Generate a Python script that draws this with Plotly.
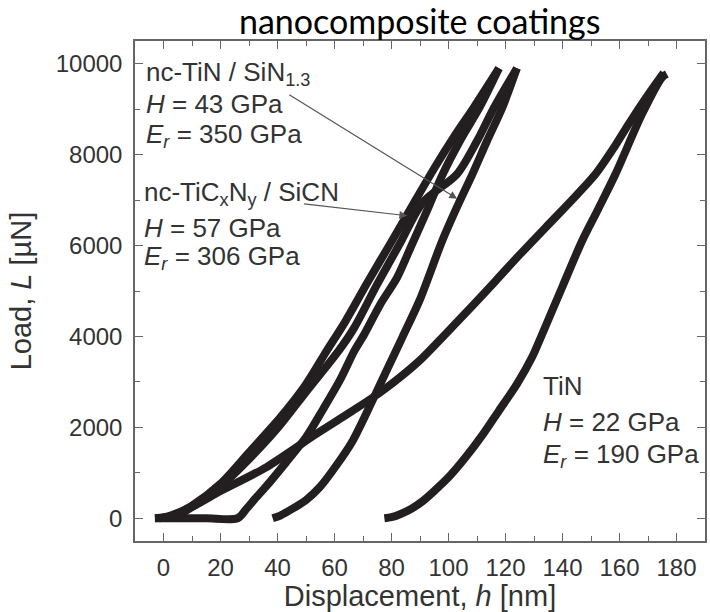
import plotly.graph_objects as go

# ---- data (displacement h [nm], load L [uN]) ----
# hard coating 1 (peak ~117.7 nm)
c1_load_h = [-3, 3, 10, 20, 30, 41, 50, 57.3, 63.5, 71.3, 80.6, 88, 95, 102, 109, 117.7]
c1_load_L = [0, 60, 280, 760, 1450, 2221, 2950, 3688, 4300, 5160, 6150, 6950, 7700, 8400, 9050, 9900]
c1_unload_h = [117.7, 111, 104, 98, 92, 87, 82, 76, 70.5, 67, 62, 56, 50, 43, 36, 32, 29, 26, 15, 5, -3]
c1_unload_L = [9900, 9050, 8300, 7573, 6700, 6000, 5300, 4700, 4055, 3688, 3050, 2400, 1781, 1230, 700, 420, 200, 0, 0, 0, 0]

# hard coating 2 (peak ~124 nm)
c2_load_h = [-1.5, 5, 12, 20, 30, 40, 50, 61.5, 67, 75, 83, 91, 103, 110, 116, 124]
c2_load_L = [0, 70, 330, 700, 1300, 1980, 2780, 3688, 4200, 5150, 6050, 6950, 7573, 8300, 9037, 9900]
c2_unload_h = [124, 118.9, 113.5, 108.4, 103, 97.8, 89.8, 83.8, 78.5, 73.3, 66.4, 60.5, 54.8, 50, 45, 41, 38.3]
c2_unload_L = [9900, 9037, 8300, 7573, 6850, 6106, 4787, 3980, 3280, 2588, 1708, 1150, 682, 400, 200, 60, 0]

# TiN
tin_load_h = [0, 10, 20, 36, 53.6, 66, 76.9, 89.8, 99, 108, 116.6, 125, 134.1, 143, 151.6, 158, 163.2, 170.2, 175.5]
tin_load_L = [0, 250, 600, 1121, 1856, 2350, 2808, 3464, 4055, 4650, 5227, 5800, 6399, 6980, 7573, 8150, 8672, 9332, 9800]
tin_unload_h = [176.6, 174.9, 167.9, 158.6, 152.5, 146.9, 140, 132.9, 129.3, 124, 117.7, 112, 106, 100, 95, 91, 87, 83, 80, 77.5]
tin_unload_L = [9773, 9697, 8893, 7573, 6800, 6106, 5100, 4055, 3541, 2950, 2368, 1840, 1341, 900, 600, 380, 210, 90, 25, 0]

x_ticks = [0, 20, 40, 60, 80, 100, 120, 140, 160, 180]
y_ticks = [0, 2000, 4000, 6000, 8000, 10000]
y_tick_labels = ["0", "2000", "4000", "6000", "8000", "10000"]

LINE = "#231f20"
TXT = "#333333"
AX = "#666666"

fig = go.Figure()
for hx, ly in [(c1_load_h, c1_load_L), (c1_unload_h, c1_unload_L),
               (c2_load_h, c2_load_L), (c2_unload_h, c2_unload_L),
               (tin_load_h, tin_load_L), (tin_unload_h, tin_unload_L)]:
    fig.add_trace(go.Scatter(x=hx, y=ly, mode="lines",
                             line=dict(color=LINE, width=8, shape="spline", smoothing=0.8),
                             showlegend=False, hoverinfo="skip"))

FONT = "Liberation Sans"
fs = 26
anns = []
def txt(x, y, s):
    anns.append(dict(x=x, y=y, xref="x", yref="y", text=s, showarrow=False,
                     xanchor="left", yanchor="middle",
                     font=dict(family=FONT, size=fs, color=TXT)))

txt(-6.8, 9780, "nc-TiN / SiN<sub>1.3</sub>")
txt(-6.8, 9120, "<i>H</i> = 43 GPa")
txt(-6.8, 8417, "<i>E</i><sub><i>r</i></sub> = 350 GPa")
txt(-7.5, 7141, "nc-TiC<sub>x</sub>N<sub>y</sub> / SiCN")
txt(-7.5, 6393, "<i>H</i> = 57 GPa")
txt(-7.5, 5733, "<i>E</i><sub><i>r</i></sub> = 306 GPa")
txt(132.3, 2918, "TiN")
txt(132.3, 2111, "<i>H</i> = 22 GPa")
txt(132.3, 1379, "<i>E</i><sub><i>r</i></sub> = 190 GPa")

for (tx, ty, hx, hy) in [(43.6, 9340, 103.0, 7031), (48.8, 6920, 85.5, 6656)]:
    anns.append(dict(x=hx, y=hy, ax=tx, ay=ty, xref="x", yref="y", axref="x", ayref="y",
                     text="", showarrow=True, arrowhead=2, arrowsize=1.3, arrowwidth=1.2,
                     arrowcolor="#555555", standoff=0))

anns.append(dict(x=(420 - 135) / 572, y=1 + (41 - 21) / 500, xref="paper", yref="paper",
                 text="nanocomposite coatings",
                 showarrow=False, xanchor="center", yanchor="middle",
                 font=dict(family="Lato", size=34, color="#000000")))

fig.update_layout(
    width=710, height=612,
    margin=dict(l=135, r=3, t=41, b=71),
    paper_bgcolor="white", plot_bgcolor="white",
    annotations=anns,
    font=dict(family=FONT, color=TXT),
)

fig.update_xaxes(range=[-10, 190], tickvals=x_ticks, ticks="inside", ticklen=8, tickwidth=1.2,
                 tickcolor=AX, showline=True, linecolor=AX, linewidth=1.5, mirror="ticks",
                 showgrid=False, zeroline=False,
                 minor=dict(dtick=10, tick0=0, ticks="inside", ticklen=5, tickcolor=AX, tickwidth=1.2),
                 tickfont=dict(family=FONT, size=24, color=TXT), ticklabelstandoff=4,
                 title=dict(text="Displacement, <i>h</i> [nm]", font=dict(family=FONT, size=29, color=TXT),
                            standoff=4))
fig.update_yaxes(range=[-500, 10500], tickvals=y_ticks, ticktext=y_tick_labels,
                 ticks="inside", ticklen=8, tickwidth=1.2,
                 tickcolor=AX, showline=True, linecolor=AX, linewidth=1.5, mirror="ticks",
                 showgrid=False, zeroline=False,
                 minor=dict(dtick=1000, tick0=0, ticks="inside", ticklen=5, tickcolor=AX, tickwidth=1.2),
                 tickfont=dict(family=FONT, size=24, color=TXT), ticklabelstandoff=6,
                 title=dict(text="Load, <i>L</i> [µN]", font=dict(family=FONT, size=29, color=TXT),
                            standoff=16))

fig.write_html("out.html")
